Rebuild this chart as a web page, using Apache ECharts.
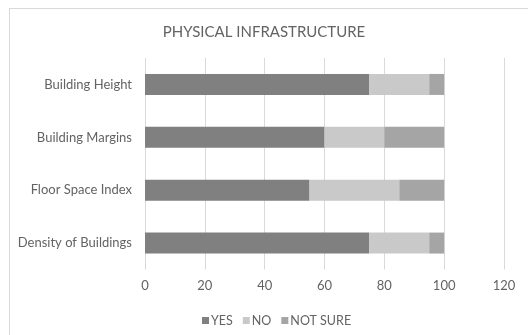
<!DOCTYPE html>
<html>
<head>
<meta charset="utf-8">
<script src="https://cdn.jsdelivr.net/npm/echarts@6/dist/echarts.min.js"></script>
<style>
  html, body { margin: 0; padding: 0; background: #fff; }
  #frame { position: absolute; left: 9px; top: 8px; width: 540px; height: 340px; border: 1px solid #d9d9d9; box-sizing: border-box; }
  #chart { position: absolute; left: 0; top: 0; width: 528px; height: 335px; }
</style>
</head>
<body>
<div id="frame"></div>
<div id="chart"></div>
<script>
// 类目（自下而上）
const categories = ['Density of Buildings', 'Floor Space Index', 'Building Margins', 'Building Height'];
const yesValues = [75, 55, 60, 75];
const noValues = [20, 30, 20, 20];
const notSureValues = [5, 15, 20, 5];
const xTicks = [0, 20, 40, 60, 80, 100, 120];

const chart = echarts.init(document.getElementById('chart'));

const labelColor = '#636363';
const font = 'Lato, "Open Sans", sans-serif';

const option = {
  backgroundColor: 'transparent',
  animation: false,
  title: {
    text: 'PHYSICAL INFRASTRUCTURE',
    left: 'center',
    top: 20,
    textStyle: { color: labelColor, fontSize: 15, fontWeight: 'normal', fontFamily: font }
  },
  legend: {
    data: ['YES', 'NO', 'NOT SURE'],
    left: 197,
    top: 309,
    itemWidth: 7,
    itemHeight: 7,
    itemGap: 10,
    icon: 'rect',
    textStyle: { color: labelColor, fontSize: 12.5, fontFamily: font, padding: [0, 0, 0, -3] }
  },
  grid: { left: 145, right: 24, top: 58, bottom: 65.5, containLabel: false },
  xAxis: {
    type: 'value',
    min: xTicks[0],
    max: xTicks[xTicks.length - 1],
    interval: 20,
    axisLine: { show: false },
    axisTick: { show: false },
    axisLabel: { color: labelColor, fontSize: 13, fontFamily: font, margin: 10 },
    splitLine: { lineStyle: { color: '#d9d9d9', width: 1 } }
  },
  yAxis: {
    type: 'category',
    data: categories,
    axisLine: { show: false },
    axisTick: { show: false },
    axisLabel: { color: labelColor, fontSize: 13, fontFamily: font, margin: 13 }
  },
  series: [
    { name: 'YES', type: 'bar', stack: 'total', data: yesValues, barWidth: 21, itemStyle: { color: '#808080' } },
    { name: 'NO', type: 'bar', stack: 'total', data: noValues, barWidth: 21, itemStyle: { color: '#c9c9c9' } },
    { name: 'NOT SURE', type: 'bar', stack: 'total', data: notSureValues, barWidth: 21, itemStyle: { color: '#a5a5a5' } }
  ]
};

chart.setOption(option);
</script>
</body>
</html>
